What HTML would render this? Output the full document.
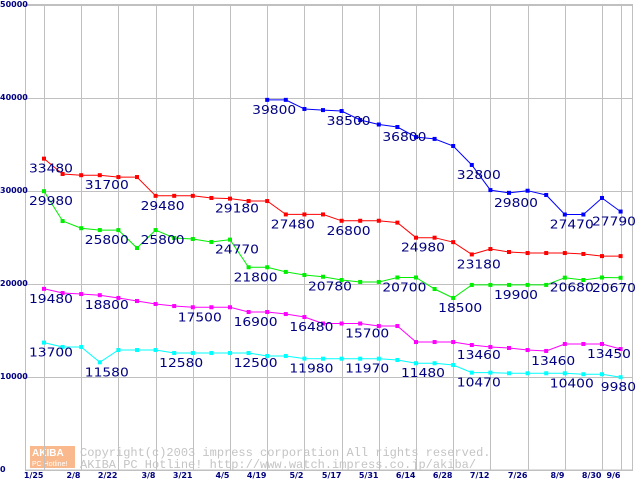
<!DOCTYPE html>
<html><head><meta charset="utf-8"><style>
html,body{margin:0;padding:0;background:#fff;}
svg{display:block;}
</style></head><body>
<svg id="chart" width="640" height="480" xmlns="http://www.w3.org/2000/svg">
<g id="wm">
<rect x="30" y="446" width="45" height="22" fill="#f9b98c"/>
<text x="32" y="456" font-family="Liberation Sans, sans-serif" font-size="10" fill="#fff" font-weight="bold">AKIBA</text>
<text x="32" y="466" font-family="Liberation Sans, sans-serif" font-size="7" fill="#fff">PC Hotline!</text>
<text x="80" y="456" font-family="Liberation Mono, monospace" font-size="12" fill="#c4c4c4">Copyright(c)2003 impress corporation All rights reserved.</text>
<text x="80" y="468" font-family="Liberation Mono, monospace" font-size="12" fill="#c4c4c4">AKIBA PC Hotline!  http://www.watch.impress.co.jp/akiba/</text>
</g>
<g id="grid"></g><g id="series"></g><g id="labels"></g>
</svg>
<script>
const xLabels=["1/25","2/8","2/22","3/8","3/21","4/5","4/19","5/2","5/17","5/31","6/14","6/28","7/12","7/26","8/9","8/30","9/6"];
const xLabelIdx=[0,2,4,6,8,10,12,14,16,18,20,22,24,26,28,30,31];
const yTicks=[0,10000,20000,30000,40000,50000];
const blue=[null,null,null,null,null,null,null,null,null,null,null,null,39800,39800,38820,38700,38600,37630,37150,36880,35800,35600,34840,32800,30100,29800,30030,29570,27470,27470,29250,27790];
const red=[33480,31830,31700,31700,31500,31500,29480,29480,29480,29250,29180,28920,28920,27480,27480,27480,26800,26800,26800,26600,24980,24980,24500,23180,23760,23440,23330,23330,23330,23230,23000,23000];
const green=[29980,26770,26000,25800,25800,23870,25800,24950,24840,24520,24770,21800,21800,21300,20970,20780,20430,20220,20220,20700,20700,19460,18500,19900,19900,19900,19900,19900,20680,20430,20700,20670];
const magenta=[19480,19030,18920,18800,18500,18170,17850,17630,17500,17500,17500,16990,16990,16770,16450,15750,15750,15750,15480,15480,13760,13760,13760,13440,13230,13120,12900,12800,13550,13550,13550,13010];
const cyan=[13700,13230,13230,11580,12900,12900,12900,12580,12580,12580,12580,12580,12260,12260,11980,11970,11970,11970,11970,11830,11480,11480,11290,10470,10470,10400,10400,10400,10400,10300,10300,9980];
const blueLbl=[[12,"39800"],[16,"38500"],[19,"36800"],[23,"32800"],[25,"29800"],[28,"27470"],[31,"27790"]];
const redLbl=[[0,"33480"],[3,"31700"],[6,"29480"],[10,"29180"],[13,"27480"],[16,"26800"],[20,"24980"],[23,"23180"]];
const greenLbl=[[0,"29980"],[3,"25800"],[6,"25800"],[10,"24770"],[11,"21800"],[15,"20780"],[19,"20700"],[22,"18500"],[25,"19900"],[28,"20680"],[31,"20670"]];
const magLbl=[[0,"19480"],[3,"18800"],[8,"17500"],[11,"16900"],[14,"16480"],[17,"15700"],[23,"13460"],[27,"13460"],[30,"13450"]];
const cyanLbl=[[0,"13700"],[3,"11580"],[7,"12580"],[11,"12500"],[14,"11980"],[17,"11970"],[20,"11480"],[23,"10470"],[28,"10400"],[31,"9980"]];
const NS="http://www.w3.org/2000/svg";
function X(i){return 44+i*18.6;}
function Y(v){return 470-v*0.0093;}
function mk(tag,attrs,parent){const e=document.createElementNS(NS,tag);for(const k in attrs)e.setAttribute(k,attrs[k]);parent.appendChild(e);return e;}
const grid=document.getElementById('grid');
mk('rect',{x:25.5,y:4.5,width:607,height:465.5,fill:'none',stroke:'#c0c0c0'},grid);
yTicks.forEach(v=>{
  const l=mk('line',{x1:25,x2:633,y1:Y(v)+0.5,y2:Y(v)+0.5,stroke:'#c0c0c0'},grid);
  
  
  const t=mk('text',{x:0,y:Y(v)+2,'font-family':'DejaVu Sans, sans-serif','font-size':'8','font-weight':'bold',fill:'#000080'},grid);
  t.textContent=String(v);
  
  
});
xLabelIdx.forEach((idx,k)=>{
  const x=Math.round(X(idx))+0.5;
  const l=mk('line',{x1:x,x2:x,y1:4,y2:470,stroke:'#c0c0c0'},grid);
  
  
  const t=mk('text',{x:x-1,y:478,'text-anchor':'end','font-family':'DejaVu Sans, sans-serif','font-size':'8','font-weight':'bold',fill:'#000080'},grid);
  t.textContent=xLabels[k];
  
  
});
const sg=document.getElementById('series'), lg=document.getElementById('labels');
function draw(data,color,lbls,name){
  let d='';
  data.forEach((v,i)=>{if(v==null)return;d+=(d?'L':'M')+X(i).toFixed(1)+' '+Y(v).toFixed(1);});
  const p=mk('path',{d:d,fill:'none',stroke:color,'stroke-width':1},sg);
  
  
  data.forEach((v,i)=>{if(v==null)return;
    const r=mk('rect',{x:X(i)-2,y:Y(v)-2,width:4,height:4,fill:color},sg);
    
    
  });
  lbls.forEach(([i,s])=>{
    const w=s.length*8.8;
    let x=X(i)-15; if(x+w>636)x=636-w;
    const t=mk('text',{x:x,y:Y(data[i])+14,'font-family':'DejaVu Sans, sans-serif','font-size':'12',fill:'#000080',textLength:w,lengthAdjust:'spacingAndGlyphs'},lg);
    t.textContent=s;
    
    
  });
}
draw(blue,'#0000ff',blueLbl,'blue-series');
draw(red,'#ff0000',redLbl,'red-series');
draw(green,'#00ee00',greenLbl,'green-series');
draw(magenta,'#ff00ff',magLbl,'magenta-series');
draw(cyan,'#00ffff',cyanLbl,'cyan-series');
</script>
</body></html>
